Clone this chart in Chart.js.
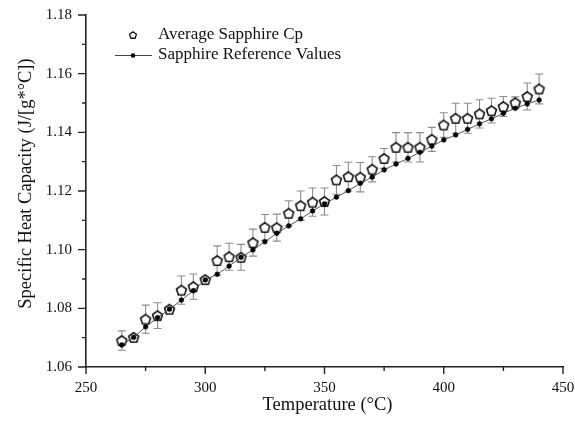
<!DOCTYPE html>
<html>
<head>
<meta charset="utf-8">
<script src="https://cdn.jsdelivr.net/npm/chart.js@4/dist/chart.umd.min.js"></script>
<style>
  html, body { margin: 0; padding: 0; background: #fff; }
  canvas { display: block; }
</style>
</head>
<body>
<canvas id="c" width="575" height="425"></canvas>
<script>
// ---- Data ----
const temperatures = [265, 270, 275, 280, 285, 290, 295, 300, 305, 310, 315, 320,
  325, 330, 335, 340, 345, 350, 355, 360, 365, 370, 375, 380,
  385, 390, 395, 400, 405, 410, 415, 420, 425, 430, 435, 440];
const averageCp = [1.0690, 1.0701, 1.0763, 1.0775, 1.0797, 1.0862, 1.0874, 1.0898, 1.0963, 1.0976, 1.0974, 1.1024,
  1.1076, 1.1075, 1.1124, 1.1150, 1.1162, 1.1164, 1.1238, 1.1249, 1.1247, 1.1274, 1.1311, 1.1349,
  1.1349, 1.1349, 1.1376, 1.1425, 1.1448, 1.1448, 1.1463, 1.1474, 1.1488, 1.1501, 1.1522, 1.1548];
const averageErr = [0.0033, 0.0008, 0.0048, 0.0044, 0.0008, 0.0048, 0.0043, 0.0008, 0.0050, 0.0046, 0.0044, 0.0046,
  0.0044, 0.0046, 0.0043, 0.0050, 0.0048, 0.0046, 0.0049, 0.0049, 0.0050, 0.0043, 0.0034, 0.0050,
  0.0050, 0.0050, 0.0041, 0.0042, 0.0051, 0.0051, 0.0048, 0.0042, 0.0034, 0.0020, 0.0046, 0.0051];
const referenceCp = [1.0675, 1.0701, 1.0737, 1.0768, 1.0797, 1.0828, 1.0860, 1.0897, 1.0916, 1.0944, 1.0974, 1.0999,
  1.1027, 1.1056, 1.1081, 1.1105, 1.1132, 1.1156, 1.1179, 1.1201, 1.1226, 1.1247, 1.1272, 1.1292,
  1.1311, 1.1332, 1.1353, 1.1374, 1.1391, 1.1410, 1.1429, 1.1446, 1.1465, 1.1482, 1.1497, 1.1510];
const xTicks = [250, 300, 350, 400, 450];
const xMinorTicks = [275, 325, 375, 425];
const yTicks = [1.06, 1.08, 1.10, 1.12, 1.14, 1.16, 1.18];
const yMinorTicks = [1.07, 1.09, 1.11, 1.13, 1.15, 1.17];
const seriesNames = ['Average Sapphire Cp', 'Sapphire Reference Values'];
const xTitle = 'Temperature (°C)';
const yTitle = 'Specific Heat Capacity (J/[g*°C])';

const SERIF = '"Liberation Serif", "Times New Roman", serif';

function makePentagon(r, lw) {
  const s = Math.ceil(2 * r + lw + 3);
  const c = document.createElement('canvas');
  c.width = s; c.height = s;
  const g = c.getContext('2d');
  const cy = s / 2 + r * 0.1;
  g.beginPath();
  for (let k = 0; k < 5; k++) {
    const a = -Math.PI / 2 + k * 2 * Math.PI / 5;
    const px = s / 2 + r * Math.cos(a);
    const py = cy + r * Math.sin(a);
    if (k === 0) g.moveTo(px, py); else g.lineTo(px, py);
  }
  g.closePath();
  g.fillStyle = '#fff';
  g.fill();
  g.lineWidth = lw;
  g.strokeStyle = '#111';
  g.stroke();
  return c;
}
const pentMarker = makePentagon(5.2, 1.6);
const pentLegend = makePentagon(3.6, 1.3);

const avgPoints = temperatures.map((t, i) => ({x: t, y: averageCp[i]}));
const refPoints = temperatures.map((t, i) => ({x: t, y: referenceCp[i]}));

const errorBarPlugin = {
  id: 'errorBars',
  beforeDatasetsDraw(chart) {
    const {ctx, scales: {x, y}} = chart;
    ctx.save();
    ctx.strokeStyle = '#8c8c8c';
    ctx.lineWidth = 1.1;
    const cap = 4;
    temperatures.forEach((t, i) => {
      const px = x.getPixelForValue(t);
      const top = y.getPixelForValue(averageCp[i] + averageErr[i]);
      const bot = y.getPixelForValue(averageCp[i] - averageErr[i]);
      ctx.beginPath();
      ctx.moveTo(px, top); ctx.lineTo(px, bot);
      ctx.moveTo(px - cap, top); ctx.lineTo(px + cap, top);
      ctx.moveTo(px - cap, bot); ctx.lineTo(px + cap, bot);
      ctx.stroke();
    });
    ctx.restore();
  }
};

const ticksAndLegendPlugin = {
  id: 'ticksLegend',
  afterDraw(chart) {
    const {ctx, scales: {x, y}, chartArea} = chart;
    ctx.save();
    ctx.strokeStyle = '#222';
    ctx.lineWidth = 1.4;
    ctx.beginPath();
    xTicks.forEach(v => { const p = x.getPixelForValue(v); ctx.moveTo(p, chartArea.bottom); ctx.lineTo(p, chartArea.bottom + 7); });
    xMinorTicks.forEach(v => { const p = x.getPixelForValue(v); ctx.moveTo(p, chartArea.bottom); ctx.lineTo(p, chartArea.bottom + 4); });
    yTicks.forEach(v => { const p = y.getPixelForValue(v); ctx.moveTo(chartArea.left, p); ctx.lineTo(chartArea.left - 8, p); });
    yMinorTicks.forEach(v => { const p = y.getPixelForValue(v); ctx.moveTo(chartArea.left, p); ctx.lineTo(chartArea.left - 4, p); });
    ctx.stroke();

    // axis titles
    ctx.fillStyle = '#111';
    ctx.font = '18.5px ' + SERIF;
    ctx.textAlign = 'center';
    ctx.textBaseline = 'alphabetic';
    ctx.fillText(xTitle, 327.5, 410);
    ctx.save();
    ctx.translate(31, 183.5);
    ctx.rotate(-Math.PI / 2);
    ctx.fillText(yTitle, 0, 0);
    ctx.restore();

    // legend
    ctx.font = '17px ' + SERIF;
    ctx.fillStyle = '#111';
    ctx.textBaseline = 'middle';
    ctx.textAlign = 'left';
    ctx.drawImage(pentLegend, 133 - pentLegend.width / 2, 35 - pentLegend.height / 2);
    ctx.fillText(seriesNames[0], 158, 35);
    ctx.strokeStyle = '#444';
    ctx.lineWidth = 1;
    ctx.beginPath(); ctx.moveTo(115, 55.5); ctx.lineTo(152, 55.5); ctx.stroke();
    ctx.beginPath(); ctx.arc(133, 55.5, 2.3, 0, Math.PI * 2); ctx.fillStyle = '#000'; ctx.fill();
    ctx.fillStyle = '#111';
    ctx.fillText(seriesNames[1], 158, 55);
    ctx.restore();
  }
};

new Chart(document.getElementById('c'), {
  type: 'scatter',
  data: {
    datasets: [
      {
        label: seriesNames[1],
        data: refPoints,
        showLine: true,
        borderColor: '#555',
        borderWidth: 1,
        pointRadius: 2.4,
        pointBackgroundColor: '#000',
        pointBorderColor: '#000',
        pointBorderWidth: 0.5
      },
      {
        label: seriesNames[0],
        data: avgPoints,
        showLine: false,
        pointStyle: pentMarker,
        pointRadius: 6
      }
    ]
  },
  options: {
    responsive: false,
    animation: false,
    devicePixelRatio: 1,
    layout: { padding: { top: 15, right: 12, bottom: 0, left: 0 } },
    plugins: { legend: { display: false }, tooltip: { enabled: false } },
    scales: {
      x: {
        type: 'linear',
        min: 250, max: 450,
        afterBuildTicks: s => { s.ticks = xTicks.map(v => ({value: v})); },
        afterFit: s => { s.height = 58; s.paddingLeft = 0; s.paddingRight = 0; },
        grid: { display: false, drawTicks: false },
        border: { display: true, color: '#222', width: 1.6 },
        ticks: { color: '#111', font: { family: SERIF, size: 15 }, padding: 12, maxRotation: 0 },
        title: { display: false }
      },
      y: {
        type: 'linear',
        min: 1.06, max: 1.18,
        afterBuildTicks: s => { s.ticks = yTicks.map(v => ({value: v})); },
        afterFit: s => { s.width = 86; s.paddingTop = 0; s.paddingBottom = 0; },
        grid: { display: false, drawTicks: false },
        border: { display: true, color: '#222', width: 1.6 },
        ticks: { color: '#111', font: { family: SERIF, size: 15 }, padding: 14, callback: v => Number(v).toFixed(2) },
        title: { display: false }
      }
    }
  },
  plugins: [errorBarPlugin, ticksAndLegendPlugin]
});
</script>
</body>
</html>
